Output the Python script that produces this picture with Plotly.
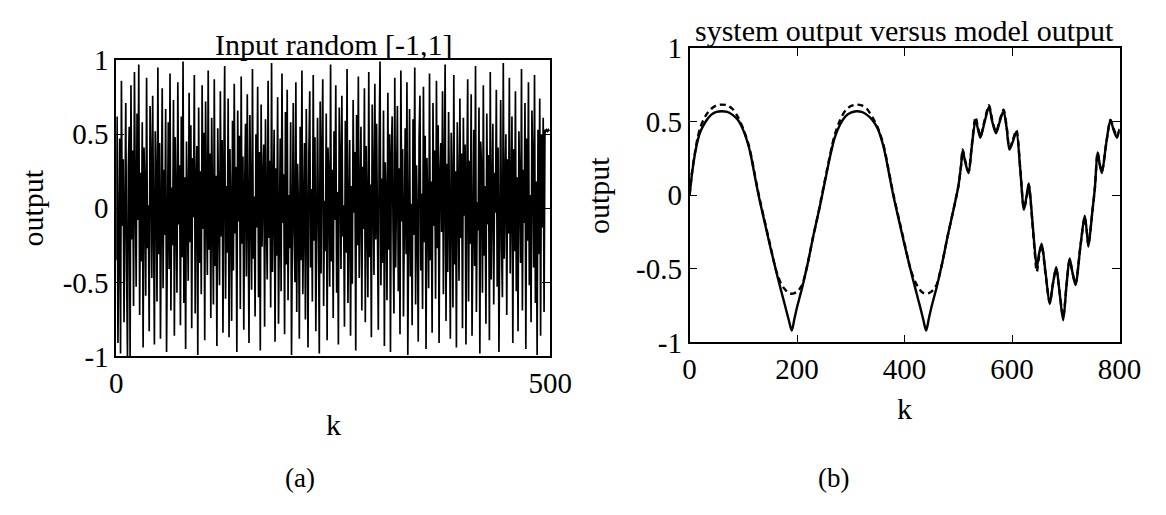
import plotly.graph_objects as go

W, H = 1166, 515
FONT = "Liberation Serif"

# ---------- Panel (a): random input in [-1, 1] ----------
input_values = [
    -0.35, 0.62, -0.91, 0.18, 0.47, -0.98, 0.86, -0.12, 0.33, -0.77, 0.05, 0.71, -0.44, -1.00, 0.27, 0.55, -1.00, 0.83, -0.21, 0.39, -0.66, 0.92, 0.11, -0.53, 0.64,
    -0.08, 0.97, -0.72, 0.24, -0.36, 0.58, -0.94, 0.41, 0.13, -0.59, 0.88, -0.27, 0.02, -0.83, 0.69, 0.31, -0.47, 0.76, -0.15, -0.92, 0.52, 0.19, -0.63, 0.95, -0.31,
    0.44, -0.88, 0.07, 0.81, -0.54, 0.26, -0.18, 0.67, -0.97, 0.36, 0.58, -0.41, 0.91, -0.69, 0.14, -0.25, 0.73, -0.86, 0.48, 0.03, -0.57, 0.85, -0.11, 0.29, -0.79,
    0.62, -0.33, 0.99, -0.64, 0.21, -0.95, 0.45, 0.09, -0.49, 0.78, -0.23, 0.56, -0.81, 0.34, -0.06, 0.90, -0.71, 0.16, 0.42, -0.99, 0.68, -0.37, 0.25, -0.58, 0.83,
    -0.14, 0.51, -0.89, 0.72, 0.04, -0.45, 0.93, -0.28, 0.37, -0.74, 0.61, -0.02, -0.65, 0.87, -0.39, 0.22, -0.93, 0.54, 0.10, -0.52, 0.79, -0.19, 0.46, -0.84, 0.31,
    0.96, -0.61, 0.15, -0.30, 0.74, -0.87, 0.40, 0.01, -0.76, 0.59, -0.42, 0.84, -0.17, 0.28, -0.97, 0.66, -0.09, 0.49, -0.68, 0.89, -0.24, 0.35, -0.82, 0.12, 0.57,
    -0.46, 0.77, -0.04, -0.91, 0.63, 0.20, -0.55, 0.94, -0.34, 0.08, -0.73, 0.50, -0.13, 0.82, -0.60, 0.38, -0.96, 0.70, -0.26, 0.17, 0.43, -0.80, 0.60, -0.07, -0.48,
    0.86, -0.20, 0.32, -0.67, 0.98, -0.43, 0.06, 0.53, -0.90, 0.27, -0.32, 0.75, -0.78, 0.14, 0.47, -0.56, 0.91, -0.10, 0.23, -0.85, 0.65, -0.38, 0.80, -0.62, 0.09,
    -0.27, 0.58, -0.99, 0.39, 0.71, -0.16, -0.50, 0.85, -0.70, 0.30, 0.00, -0.88, 0.55, -0.35, 0.93, -0.58, 0.18, 0.44, -0.75, 0.67, -0.05, -0.94, 0.37, 0.79, -0.40,
    0.13, -0.63, 0.90, -0.22, 0.48, -0.83, 0.24, 0.61, -0.12, -0.98, 0.72, -0.44, 0.35, 0.87, -0.66, 0.05, -0.29, 0.64, -0.89, 0.41, 0.19, -0.53, 0.97, -0.36, 0.26,
    -0.74, 0.52, -0.08, 0.83, -0.57, 0.11, -0.92, 0.68, 0.33, -0.41, 0.76, -0.19, 0.02, -0.80, 0.59, -0.30, 0.94, -0.64, 0.21, 0.46, -0.86, 0.15, -0.51, 0.73, -0.03,
    0.38, -0.96, 0.63, -0.25, 0.89, -0.47, 0.07, 0.55, -0.69, 0.28, -0.14, 0.81, -0.77, 0.42, -0.01, -0.60, 0.92, -0.33, 0.16, -0.87, 0.70, 0.04, -0.45, 0.84, -0.21,
    0.57, -0.11, -0.82, 0.45, 0.99, -0.52, 0.20, -0.37, 0.66, -0.93, 0.31, 0.08, -0.62, 0.78, -0.28, 0.50, -0.97, 0.36, 0.62, -0.15, -0.71, 0.88, -0.40, 0.12, 0.69,
    -0.56, 0.27, -0.85, 0.93, -0.09, 0.40, -0.73, 0.17, 0.54, -0.31, 0.85, -0.99, 0.22, 0.67, -0.46, 0.03, -0.79, 0.60, -0.18, 0.95, -0.65, 0.29, -0.06, -0.90, 0.48,
    0.76, -0.42, 0.10, -0.68, 0.82, -0.23, 0.49, -0.95, 0.34, 0.01, -0.54, 0.91, -0.35, 0.18, -0.84, 0.71, -0.12, 0.39, -0.61, 0.86, -0.27, 0.56, -0.91, 0.23, 0.44,
    -0.16, 0.79, -0.58, 0.06, 0.97, -0.76, 0.30, -0.43, 0.65, -0.02, -0.88, 0.51, 0.14, -0.67, 0.90, -0.38, 0.25, -0.94, 0.58, 0.09, -0.49, 0.74, -0.20, 0.37, -0.81,
    0.61, -0.05, 0.43, -0.92, 0.20, 0.87, -0.63, 0.32, -0.24, 0.77, -0.86, 0.11, 0.53, -0.39, 0.96, -0.70, 0.04, -0.15, 0.68, -0.98, 0.45, 0.27, -0.57, 0.83, -0.32,
    0.15, -0.78, 0.64, -0.11, 0.36, -0.89, 0.92, -0.48, 0.07, 0.57, -0.65, 0.24, -0.03, 0.80, -0.53, 0.41, -0.97, 0.19, 0.73, -0.26, -0.60, 0.98, -0.34, 0.13, 0.50,
    -0.72, 0.33, -0.17, 0.88, -0.44, 0.05, 0.62, -0.91, 0.40, -0.29, 0.79, -0.56, 0.21, -0.83, 0.52, 0.16, -0.37, 0.94, -0.69, 0.26, -0.10, 0.71, -0.95, 0.47, -0.22,
    0.85, -0.52, 0.09, -0.77, 0.66, 0.30, -0.40, 0.90, -0.64, 0.18, -0.99, 0.53, -0.31, 0.74, -0.86, 0.50, -0.13, 0.61, -0.70, 0.53, 0.52, 0.53, 0.52, 0.53, 0.52,
]
input_k = list(range(len(input_values)))

# ---------- Panel (b): system output vs model output ----------
out_k = [
    0, 5, 10, 15, 20, 30, 40, 50, 60, 70, 80, 90, 100, 110, 115, 120, 125, 130, 140, 150,
    160, 165, 170, 175, 180, 185, 190, 195, 200, 205, 210, 215, 220, 225, 230, 240, 245, 250, 255, 260,
    265, 270, 280, 290, 300, 310, 320, 330, 340, 350, 360, 365, 370, 375, 380, 390, 400,
    410, 415, 420, 425, 430, 435, 440, 445, 450, 455, 460, 465, 470, 475, 480, 490, 495, 500,
    505, 508, 513, 519, 525, 532, 537, 541, 549, 557, 563, 570, 577, 584, 590, 595, 601, 608,
    615, 622, 627, 631, 636, 641, 646, 650, 655, 662, 670, 676, 682, 688, 695, 701, 707, 712,
    718, 727, 735, 739, 742, 749, 754, 759, 763, 767, 775, 783, 789, 795, 800,
]
system_output = [
    0.00, 0.16, 0.28, 0.37, 0.43, 0.50, 0.545, 0.565, 0.57, 0.565, 0.545, 0.51, 0.44, 0.33, 0.25, 0.155, 0.06, -0.03, -0.19, -0.35,
    -0.50, -0.575, -0.645, -0.715, -0.785, -0.855, -0.92, -0.84, -0.76, -0.69, -0.62, -0.54, -0.46, -0.37, -0.28, -0.115, -0.03, 0.06, 0.15, 0.24,
    0.32, 0.39, 0.48, 0.535, 0.56, 0.57, 0.565, 0.545, 0.51, 0.45, 0.34, 0.26, 0.165, 0.07, -0.02, -0.18, -0.34,
    -0.49, -0.565, -0.635, -0.705, -0.775, -0.85, -0.92, -0.84, -0.76, -0.69, -0.62, -0.54, -0.46, -0.37, -0.28, -0.115, -0.03, 0.06,
    0.20, 0.30, 0.22, 0.15, 0.33, 0.51, 0.44, 0.39, 0.50, 0.60, 0.50, 0.42, 0.50, 0.57, 0.45, 0.31, 0.36, 0.43,
    0.18, -0.10, 0.00, 0.08, -0.10, -0.32, -0.49, -0.40, -0.33, -0.52, -0.74, -0.60, -0.49, -0.65, -0.85, -0.62, -0.43, -0.52,
    -0.61, -0.35, -0.14, -0.25, -0.35, -0.12, 0.05, 0.29, 0.21, 0.15, 0.35, 0.51, 0.44, 0.39, 0.45,
]
model_output = [
    0.00, 0.17, 0.29, 0.39, 0.46, 0.54, 0.585, 0.61, 0.615, 0.61, 0.585, 0.53, 0.45, 0.34, 0.26, 0.165, 0.07, -0.02, -0.18, -0.34,
    -0.50, -0.555, -0.60, -0.63, -0.65, -0.665, -0.67, -0.665, -0.655, -0.635, -0.605, -0.54, -0.46, -0.37, -0.28, -0.115, -0.02, 0.07, 0.16, 0.25,
    0.335, 0.41, 0.51, 0.575, 0.605, 0.615, 0.61, 0.585, 0.53, 0.46, 0.35, 0.27, 0.175, 0.08, -0.01, -0.17, -0.33,
    -0.49, -0.545, -0.59, -0.625, -0.65, -0.665, -0.67, -0.665, -0.655, -0.635, -0.605, -0.54, -0.46, -0.37, -0.28, -0.115, -0.03, 0.06,
    0.20, 0.31, 0.23, 0.16, 0.34, 0.53, 0.45, 0.40, 0.51, 0.61, 0.51, 0.43, 0.51, 0.58, 0.46, 0.32, 0.37, 0.44,
    0.19, -0.09, -0.02, 0.07, -0.11, -0.34, -0.52, -0.42, -0.34, -0.53, -0.73, -0.60, -0.50, -0.65, -0.83, -0.62, -0.44, -0.52,
    -0.60, -0.35, -0.15, -0.25, -0.34, -0.12, 0.05, 0.29, 0.21, 0.16, 0.35, 0.51, 0.45, 0.40, 0.45,
]

y_tickvals = [-1, -0.5, 0, 0.5, 1]
y_ticktext = ["-1", "-0.5", "0", "0.5", "1"]
xa_tickvals = [0, 500]
xb_tickvals = [0, 200, 400, 600, 800]


def px_x(p):
    return p / W


def px_y(p):
    return 1 - p / H


fig = go.Figure()

fig.add_trace(go.Scatter(x=input_k, y=input_values, mode="lines",
                         line=dict(color="black", width=1.7),
                         xaxis="x", yaxis="y", showlegend=False))
fig.add_trace(go.Scatter(x=out_k, y=system_output, mode="lines",
                         line=dict(color="black", width=2.4, shape="spline", smoothing=0.8),
                         xaxis="x2", yaxis="y2", showlegend=False))
fig.add_trace(go.Scatter(x=out_k, y=model_output, mode="lines",
                         line=dict(color="black", width=2.4, dash="6px,4px",
                                   shape="spline", smoothing=0.8),
                         xaxis="x2", yaxis="y2", showlegend=False))

axis_common = dict(showline=True, linecolor="black", linewidth=1.6, mirror="ticks",
                   ticks="inside", ticklen=8, tickwidth=1.4, tickcolor="black",
                   showgrid=False, zeroline=False,
                   tickfont=dict(family=FONT, size=29, color="black"))

fig.update_layout(
    width=W, height=H, autosize=False,
    margin=dict(l=0, r=0, t=0, b=0),
    paper_bgcolor="white", plot_bgcolor="white",
    xaxis=dict(domain=[px_x(112), px_x(557)], range=[0, 500], tickmode="array",
               tickvals=xa_tickvals, ticktext=[str(v) for v in xa_tickvals],
               anchor="y", **axis_common),
    yaxis=dict(domain=[px_y(363), px_y(47)], range=[-1, 1], tickmode="array",
               tickvals=y_tickvals, ticktext=y_ticktext, anchor="x", **axis_common),
    xaxis2=dict(domain=[px_x(700), px_x(1141)], range=[0, 800], tickmode="array",
                tickvals=xb_tickvals, ticktext=[str(v) for v in xb_tickvals],
                anchor="y2", **axis_common),
    yaxis2=dict(domain=[px_y(348), px_y(34)], range=[-1, 1], tickmode="array",
                tickvals=y_tickvals, ticktext=y_ticktext, anchor="x2", **axis_common),
)


def label(text, x, y, angle=0, size=30):
    fig.add_annotation(text=text, x=px_x(x), y=px_y(y), xref="paper", yref="paper",
                       showarrow=False, textangle=angle, xanchor="center", yanchor="middle",
                       font=dict(family=FONT, size=size, color="black"))


label("Input random [-1,1]", 335, 30)
label("system output versus model output", 920, 15)
label("output", 26, 205, angle=-90)
label("output", 606, 191, angle=-90)
label("k", 335, 436)
label("k", 920, 419)
label("(a)", 300, 493, size=27)
label("(b)", 848, 493, size=27)

fig.write_html("out.html")
